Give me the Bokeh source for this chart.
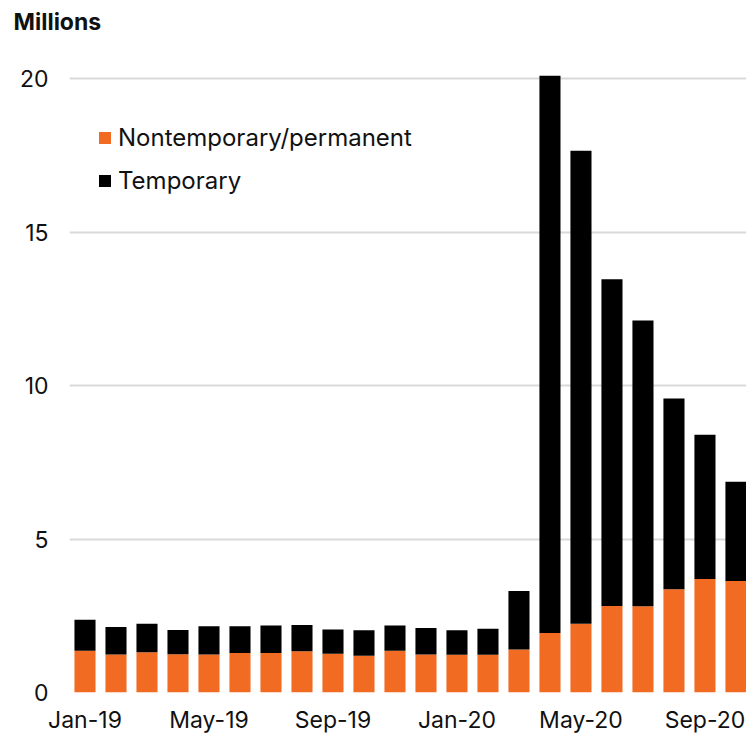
from bokeh.plotting import figure
from bokeh.models import Range1d, FixedTicker, Legend, LegendItem, Title
from bokeh.embed import file_html
from bokeh.resources import INLINE

months = ["Jan-19", "Feb-19", "Mar-19", "Apr-19", "May-19", "Jun-19", "Jul-19", "Aug-19",
          "Sep-19", "Oct-19", "Nov-19", "Dec-19", "Jan-20", "Feb-20", "Mar-20", "Apr-20",
          "May-20", "Jun-20", "Jul-20", "Aug-20", "Sep-20", "Oct-20"]
permanent = [1.36, 1.24, 1.31, 1.25, 1.24, 1.29, 1.29, 1.34, 1.26, 1.20, 1.36, 1.24,
             1.23, 1.23, 1.40, 1.94, 2.24, 2.82, 2.81, 3.36, 3.70, 3.63]
total = [2.37, 2.13, 2.24, 2.04, 2.16, 2.16, 2.18, 2.20, 2.05, 2.03, 2.18, 2.10,
         2.03, 2.08, 3.31, 20.09, 17.65, 13.46, 12.12, 9.58, 8.40, 6.87]
temporary = [round(t - p, 2) for t, p in zip(total, permanent)]
y_ticks = [0, 5, 10, 15, 20]
x_tick_idx = [0, 4, 8, 12, 16, 20]

FONT = "Inter"
ORANGE = "#F26B23"

xs = list(range(len(months)))
data = dict(x=xs, permanent=permanent, temporary=temporary)

p = figure(width=746, height=737, output_backend="svg", toolbar_location=None,
           x_range=Range1d(-0.5, 21.34), y_range=Range1d(0, 20.59),
           min_border_left=69, min_border_right=0, min_border_top=60, min_border_bottom=45)
p.outline_line_color = None
p.background_fill_color = "white"
p.border_fill_color = "white"

rs = p.vbar_stack(["permanent", "temporary"], x="x", width=0.68, source=data,
                  color=[ORANGE, "black"], line_width=0)

p.xgrid.grid_line_color = None
p.ygrid.grid_line_color = "#d9d9d9"
p.ygrid.grid_line_width = 2
p.ygrid.ticker = FixedTicker(ticks=y_ticks)

p.yaxis.ticker = FixedTicker(ticks=y_ticks)
p.yaxis.axis_line_color = None
p.yaxis.major_tick_line_color = None
p.yaxis.minor_tick_line_color = None
p.yaxis.major_label_standoff = 15
p.yaxis.major_label_text_font = FONT
p.yaxis.major_label_text_font_size = "23px"
p.yaxis.major_label_text_color = "#111111"

p.xaxis.ticker = FixedTicker(ticks=x_tick_idx)
p.xaxis.major_label_overrides = {i: months[i] for i in x_tick_idx}
p.xaxis.axis_line_color = None
p.xaxis.major_tick_line_color = None
p.xaxis.minor_tick_line_color = None
p.xaxis.major_tick_out = 0
p.xaxis.major_tick_in = 0
p.xaxis.axis_label_standoff = 0
p.xaxis.major_label_standoff = 13
p.xaxis.major_label_text_font = FONT
p.xaxis.major_label_text_font_size = "23px"
p.xaxis.major_label_text_color = "#111111"

# spacer between the title and the plot frame (pushes the title upward)
spacer = Title(text=" ", text_font_size="1px", standoff=14, align="left")
p.add_layout(spacer, "above")

p.title.text = "Millions"
p.title.align = "left"
p.title.vertical_align = "top"
p.title.offset = -56
p.title.standoff = 12
p.title.text_font = FONT
p.title.text_font_size = "23px"
p.title.text_font_style = "bold"
p.title.text_color = "#111111"

legend = Legend(items=[LegendItem(label="Nontemporary/permanent", renderers=[rs[0]]),
                       LegendItem(label="Temporary", renderers=[rs[1]])],
                location=(28, 497), orientation="vertical")
legend.glyph_width = 15
legend.glyph_height = 15
legend.label_standoff = 6
legend.spacing = 14
legend.padding = 0
legend.margin = 0
legend.border_line_color = None
legend.background_fill_alpha = 0
legend.label_text_font = FONT
legend.label_text_font_size = "24px"
legend.label_text_color = "#111111"
p.add_layout(legend)

open("out.html", "w").write(file_html(p, INLINE))
